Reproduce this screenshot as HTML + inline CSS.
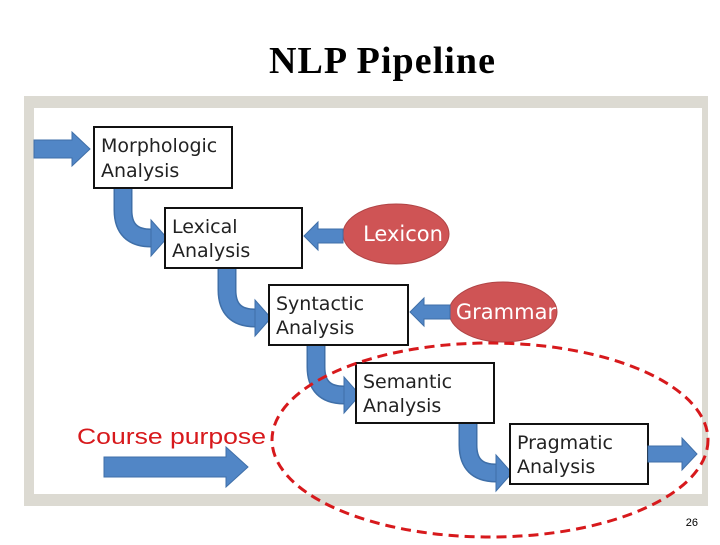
<!DOCTYPE html>
<html><head><style>
body{margin:0;width:720px;height:540px;background:#fff;overflow:hidden;font-family:"Liberation Sans",sans-serif}
</style></head><body>
<svg width="720" height="540" xmlns="http://www.w3.org/2000/svg">
<defs>
<g id="curve">
<path d="M0,0 L0,22 Q0,50 28,50 L30,50" fill="none" stroke="#3f6fa8" stroke-width="19"/>
<path d="M0,0 L0,22 Q0,50 28,50 L30,50" fill="none" stroke="#5186c6" stroke-width="16"/>
<polygon points="28,32 44,50 28,68" fill="#5186c6" stroke="#3f6fa8" stroke-width="1"/>
</g>
</defs>
<text x="382" y="73" text-anchor="middle" font-family="Liberation Serif" font-weight="bold" font-size="38" textLength="226">NLP Pipeline</text>
<rect x="24" y="96" width="684" height="410" fill="#dcdad2"/>
<rect x="34" y="108" width="668" height="386" fill="#fff"/>
<polygon points="34,140 72,140 72,132 90,149 72,166 72,158 34,158" fill="#5186c6" stroke="#3f6fa8"/>
<use href="#curve" x="123" y="188"/>
<use href="#curve" x="227" y="268"/>
<use href="#curve" x="316" y="345"/>
<use href="#curve" x="468" y="423"/>
<g fill="#fff" stroke="#111" stroke-width="2">
<rect x="94" y="127" width="138" height="61"/>
<rect x="165" y="208" width="137" height="60"/>
<rect x="269" y="285" width="139" height="60"/>
<rect x="356" y="363" width="138" height="60"/>
<rect x="510" y="424" width="138" height="60"/>
</g>
<g font-family="DejaVu Sans" font-size="19" fill="#222">
<text x="101" y="152">Morphologic</text><text x="101" y="177">Analysis</text>
<text x="172" y="233">Lexical</text><text x="172" y="257">Analysis</text>
<text x="276" y="310">Syntactic</text><text x="276" y="334">Analysis</text>
<text x="363" y="388">Semantic</text><text x="363" y="412">Analysis</text>
<text x="517" y="449">Pragmatic</text><text x="517" y="473">Analysis</text>
</g>
<ellipse cx="396" cy="234" rx="53" ry="30" fill="#cf5455" stroke="#b04445"/>
<text x="403" y="241" text-anchor="middle" font-family="DejaVu Sans" font-size="21" fill="#fff">Lexicon</text>
<ellipse cx="503" cy="312" rx="54" ry="30" fill="#cf5455" stroke="#b04445"/>
<text x="506" y="319" text-anchor="middle" font-family="DejaVu Sans" font-size="21" fill="#fff">Grammar</text>
<polygon points="343,229 318,229 318,222 304,236 318,250 318,243 343,243" fill="#5186c6" stroke="#3f6fa8"/>
<polygon points="450,305 424,305 424,298 410,312 424,326 424,319 450,319" fill="#5186c6" stroke="#3f6fa8"/>
<polygon points="648,446 682,446 682,438 697,454 682,470 682,462 648,462" fill="#5186c6" stroke="#3f6fa8"/>
<ellipse cx="490" cy="440" rx="218" ry="97" fill="none" stroke="#d7191c" stroke-width="3" stroke-dasharray="10,6"/>
<text x="77" y="444" font-size="22" fill="#d7191c" textLength="189" lengthAdjust="spacingAndGlyphs">Course purpose</text>
<polygon points="104,457 226,457 226,447 248,467 226,487 226,477 104,477" fill="#5186c6" stroke="#3f6fa8"/>
<text x="698" y="526" text-anchor="end" font-size="11" fill="#000">26</text>
</svg>
</body></html>
